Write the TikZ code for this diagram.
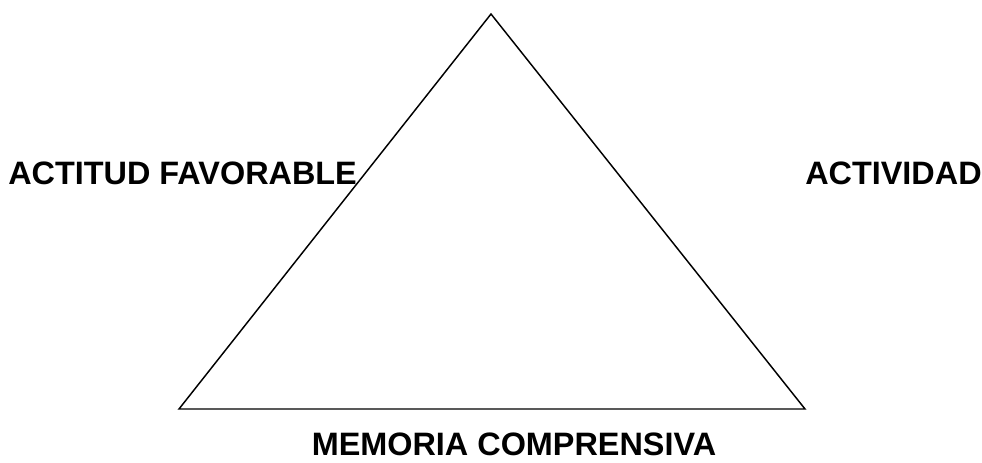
\documentclass[tikz,border=0pt]{standalone}
\usepackage{fontspec}
\setmainfont{Liberation Sans}
\begin{document}
\begin{tikzpicture}[x=0.75pt,y=-0.75pt,
  lbl/.style={font=\fontsize{24.3}{28}\selectfont\bfseries, inner sep=0pt},
  edge/.style={line width=1.1pt, line join=miter}]
\useasboundingbox (0,0) rectangle (982,463);
\coordinate (apex) at (491,14);
\coordinate (bl) at (179,409);
\coordinate (br) at (805,409);
\draw[edge] (apex) -- (br) -- (bl) -- cycle;
\node[lbl, anchor=west] (actitud) at (8,173) {ACTITUD FAVORABLE};
\node[lbl, anchor=west] (actividad) at (805,173) {ACTIVIDAD};
\node[lbl] (memoria) at (514,444) {MEMORIA COMPRENSIVA};
\end{tikzpicture}
\end{document}
